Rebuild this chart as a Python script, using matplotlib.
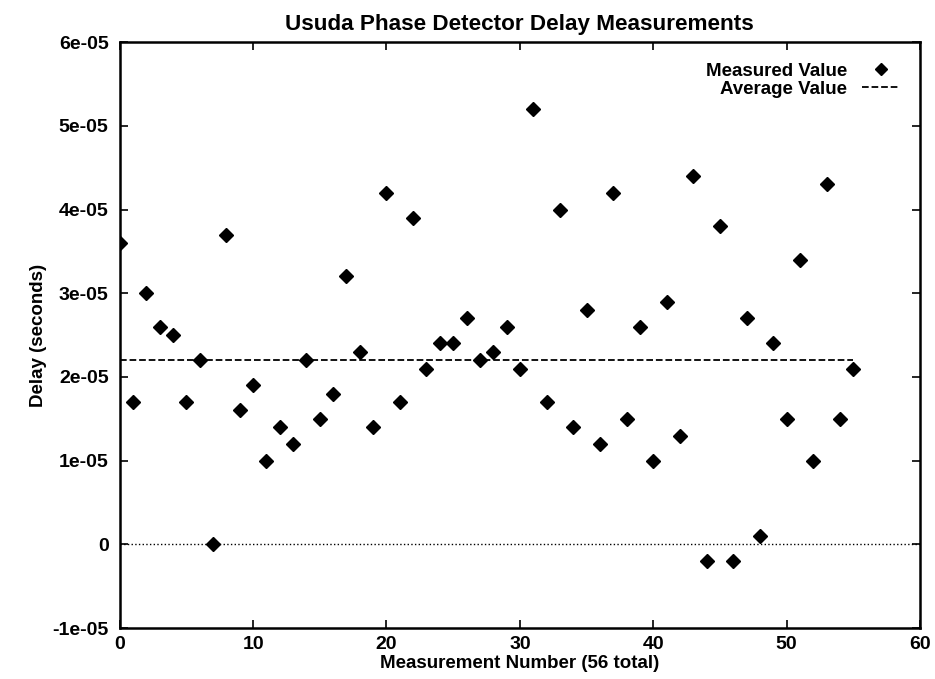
import matplotlib.pyplot as plt
import numpy as np

plt.rcParams.update({'font.size': 13.5, 'font.family': 'Liberation Sans', 'font.weight': 'bold',
                     'axes.titleweight': 'bold', 'axes.labelweight': 'bold'})

# delay measurements (seconds), one per measurement number 0..55
measured = [3.6, 1.7, 3.0, 2.6, 2.5, 1.7, 2.2, 0.0, 3.7, 1.6,
            1.9, 1.0, 1.4, 1.2, 2.2, 1.5, 1.8, 3.2, 2.3, 1.4,
            4.2, 1.7, 3.9, 2.1, 2.4, 2.4, 2.7, 2.2, 2.3, 2.6,
            2.1, 5.2, 1.7, 4.0, 1.4, 2.8, 1.2, 4.2, 1.5, 2.6,
            1.0, 2.9, 1.3, 4.4, -0.2, 3.8, -0.2, 2.7, 0.1, 2.4,
            1.5, 3.4, 1.0, 4.3, 1.5, 2.1]
measured = np.array(measured) * 1e-5
num = np.arange(len(measured))
avg_value = 2.2e-5

fig = plt.figure(figsize=(9.35, 6.79), dpi=100)
ax = fig.add_axes([0.128, 0.075, 0.856, 0.863])

ax.plot(num, measured, 'kD', markersize=7, label='Measured Value')
ax.plot([num[0], num[-1]], [avg_value, avg_value], 'k--', lw=1.3, label='Average Value')
ax.plot([0, 60], [0, 0], 'k:', lw=1.0)

ax.set_xlim(0, 60)
ax.set_ylim(-1e-5, 6e-5)
ax.set_xticks(range(0, 61, 10))
ax.set_yticks(np.arange(-1e-5, 6.1e-5, 1e-5))
ax.set_yticklabels(['-1e-05', '0', '1e-05', '2e-05', '3e-05', '4e-05', '5e-05', '6e-05'])
ax.tick_params(direction='in', top=True, right=True, length=6, width=1.2, labelsize=14)
ax.tick_params(axis='x', pad=6)
ax.tick_params(axis='y', pad=8)
for s in ax.spines.values():
    s.set_linewidth(1.8)

ax.set_xlabel('Measurement Number (56 total)', labelpad=1)
ax.set_ylabel('Delay (seconds)')
ax.set_title('Usuda Phase Detector Delay Measurements', pad=9)
ax.legend(loc='upper right', markerfirst=False, frameon=False, handlelength=2.0,
          borderaxespad=0.7, labelspacing=0.05, markerscale=0.9)

plt.savefig('out.png')
